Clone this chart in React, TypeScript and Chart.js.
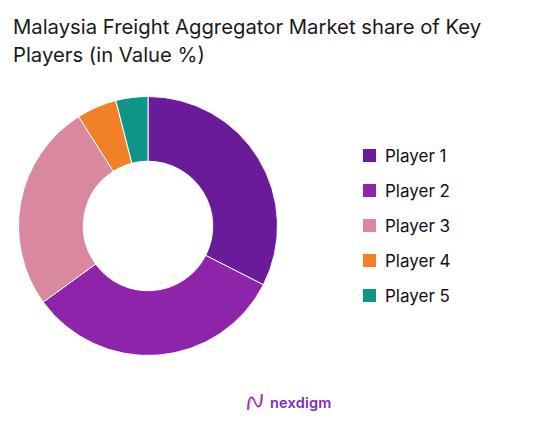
import React, { useEffect, useRef } from "react";
import { Chart, registerables } from "chart.js";

Chart.register(...registerables);

const labels = ["Player 1", "Player 2", "Player 3", "Player 4", "Player 5"];
const values = [32.5, 32.5, 26, 5, 4];
const colors = ["#6a1b9a", "#8e24aa", "#da889f", "#f28026", "#0f9488"];
const titleLines = ["Malaysia Freight Aggregator Market share of Key", "Players (in Value %)"];

export default function App() {
  const ref = useRef<HTMLCanvasElement | null>(null);

  useEffect(() => {
    document.body.style.margin = "0";
    if (!ref.current) return;
    const chart = new Chart(ref.current, {
      type: "doughnut",
      data: {
        labels,
        datasets: [
          {
            data: values,
            backgroundColor: colors,
            borderColor: "#ffffff",
            borderWidth: 1,
          },
        ],
      },
      options: {
        animation: false,
        responsive: false,
        cutout: "50%",
        layout: { padding: 0 },
        plugins: {
          legend: { display: false },
          title: { display: false },
          tooltip: { enabled: false },
        },
      },
    });
    return () => chart.destroy();
  }, []);

  const font = "Inter, 'Open Sans', sans-serif";

  return (
    <div style={{ position: "relative", width: 546, height: 427, background: "#fff", fontFamily: font }}>
      <div
        style={{
          position: "absolute",
          left: 13,
          top: 13,
          fontSize: 20.3,
          lineHeight: "28px",
          color: "#1a1a1a",
          whiteSpace: "nowrap",
        }}
      >
        {titleLines.map((t, i) => (
          <div key={i}>{t}</div>
        ))}
      </div>
      <canvas
        ref={ref}
        width={260}
        height={260}
        style={{ position: "absolute", left: 18, top: 96, width: 260, height: 260 }}
      />
      <div style={{ position: "absolute", left: 363, top: 138 }}>
        {labels.map((l, i) => (
          <div key={l} style={{ display: "flex", alignItems: "center", height: 35 }}>
            <span style={{ width: 13, height: 13, background: colors[i], display: "inline-block", marginRight: 9 }} />
            <span style={{ fontSize: 17, color: "#111" }}>{l}</span>
          </div>
        ))}
      </div>
      <div
        style={{
          position: "absolute",
          left: 246,
          top: 392,
          display: "flex",
          alignItems: "center",
          gap: 6,
        }}
      >
        <svg width="18" height="20" viewBox="0 0 18 20">
          <path d="M2 18 C2 4, 6 2, 9 10 C12 18, 16 16, 16 2" fill="none" stroke="#8e24aa" strokeWidth="1.6" />
          <path d="M3 18 C4 6, 7 4, 9 11 C11 17, 15 14, 15 2" fill="none" stroke="#b46ad6" strokeWidth="0.8" />
        </svg>
        <span style={{ fontSize: 14.5, color: "#7b2cbf", fontWeight: 600, letterSpacing: 0.2 }}>nexdigm</span>
      </div>
    </div>
  );
}
